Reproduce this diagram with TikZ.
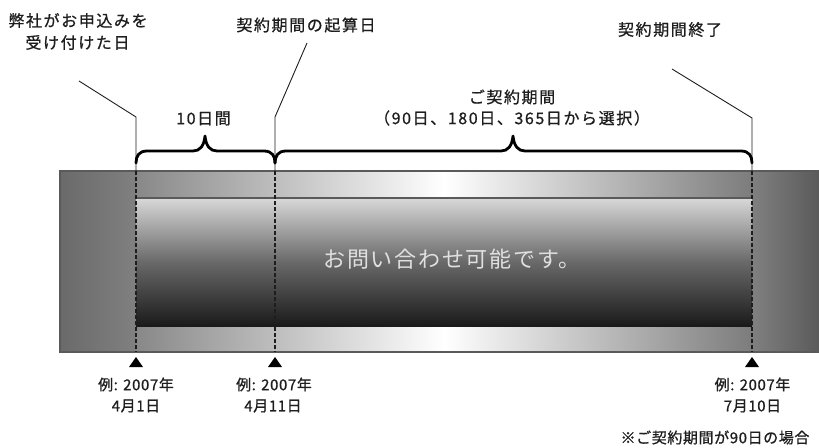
\documentclass[tikz,border=0pt]{standalone}
\usepackage{fontspec}
\setmainfont{Noto Sans CJK JP}
\newfontfamily\jpsp[LetterSpace=10,FakeBold=0.8]{Noto Sans CJK JP}
\newfontfamily\jpdate[LetterSpace=4,FakeBold=0.8]{Noto Sans CJK JP}
\newfontfamily\jpmain[LetterSpace=8]{Noto Sans CJK JP}
\definecolor{outerA}{RGB}{106,106,106}
\definecolor{outerB}{RGB}{128,128,128}
\definecolor{bandL}{RGB}{136,136,136}
\definecolor{bandR}{RGB}{124,124,124}
\definecolor{innerT}{RGB}{216,216,216}
\definecolor{innerM}{RGB}{105,105,105}
\definecolor{innerB}{RGB}{26,26,26}
\definecolor{edge}{RGB}{90,90,90}
\definecolor{txt}{RGB}{30,30,30}
\definecolor{maintxt}{RGB}{224,224,224}
\tikzset{
  lbl/.style={inner sep=0pt, text=txt, font=\jpsp\fontsize{16}{18}\selectfont},
  datelbl/.style={inner sep=0pt, text=txt, font=\jpdate\fontsize{15}{17}\selectfont},
  leader/.style={draw=txt, line width=0.9pt},
  dashline/.style={draw=txt, line width=1.1pt, dash pattern=on 4pt off 2pt},
  bracepath/.style={draw=black, line width=2.8pt, line cap=round, line join=round},
  marker/.style={fill=black}
}
\begin{document}
\begin{tikzpicture}[x=1pt,y=-1pt]
\useasboundingbox[fill=white] (0,0) rectangle (819,447);
% bar
\shade[left color=outerA, right color=outerB] (60,171) rectangle (136,352);
\shade[left color=outerB, right color=outerA!85!black] (752,171) rectangle (819,352);
\shade[left color=bandL, right color=bandR, middle color=white] (136,171) rectangle (752,352);
\shade[top color=innerT, bottom color=innerB, middle color=innerM] (136,198) rectangle (752,326);
\draw[edge, line width=1.6pt] (136,198) -- (752,198);
\draw[innerB, line width=1.6pt] (136,326) -- (752,326);
\draw[edge, line width=1.2pt] (60,171) rectangle (819,352);
\node[inner sep=0pt, text=maintxt, font=\jpmain\fontsize{22}{24}\selectfont] (main) at (452,259) {お問い合わせ可能です。};
% coordinates
\coordinate (s1) at (79,81);   \coordinate (b1) at (136,117); \coordinate (t1) at (136,171); \coordinate (u1) at (136,352);
\coordinate (s2) at (307,43);  \coordinate (b2) at (275,117); \coordinate (t2) at (275,171); \coordinate (u2) at (275,352);
\coordinate (s3) at (672,69);  \coordinate (b3) at (752,118); \coordinate (t3) at (752,171); \coordinate (u3) at (752,352);
\draw[leader] (s1) -- (b1) -- (t1);
\draw[leader] (s2) -- (b2) -- (t2);
\draw[leader] (s3) -- (b3) -- (t3);
\draw[dashline] (t1) -- (u1);
\draw[dashline] (t2) -- (u2);
\draw[dashline] (t3) -- (u3);
% braces
\draw[bracepath] (136,163) .. controls (136,156) and (139,151) .. (147,151) -- (193,151)
  .. controls (200,151) and (204,146) .. (205,136) .. controls (206,146) and (210,151) .. (217,151)
  -- (264,151) .. controls (272,151) and (275,156) .. (275,163);
\draw[bracepath] (275,163) .. controls (275,156) and (278,151) .. (286,151) -- (501,151)
  .. controls (508,151) and (512,146) .. (513,136) .. controls (514,146) and (518,151) .. (525,151)
  -- (741,151) .. controls (749,151) and (752,156) .. (752,163);
% markers
\fill[marker] (136,357) -- (129,367) -- (143,367) -- cycle;
\fill[marker] (275,357) -- (268,367) -- (282,367) -- cycle;
\fill[marker] (752,357) -- (745,367) -- (759,367) -- cycle;
% labels
\node[lbl] (la) at (78,20.5) {弊社がお申込みを};
\node[lbl] (lb) at (77.5,42.5) {受け付けた日};
\node[lbl] (lc) at (306,25) {契約期間の起算日};
\node[lbl] (ld) at (670,29.5) {契約期間終了};
\node[lbl] (le) at (203.5,118.5) {10日間};
\node[lbl] (lf) at (512,97) {ご契約期間};
\node[lbl] (lg) at (512,118) {（90日、180日、365日から選択）};
\node[datelbl] (d1a) at (136,384.5) {例: 2007年};
\node[datelbl] (d1b) at (136,406) {4月1日};
\node[datelbl] (d2a) at (274,384.5) {例: 2007年};
\node[datelbl] (d2b) at (273,406) {4月11日};
\node[datelbl] (d3a) at (752.5,384.5) {例: 2007年};
\node[datelbl] (d3b) at (752.5,406) {7月10日};
\node[datelbl] (note) at (715,437.5) {※ご契約期間が90日の場合};
\end{tikzpicture}
\end{document}
